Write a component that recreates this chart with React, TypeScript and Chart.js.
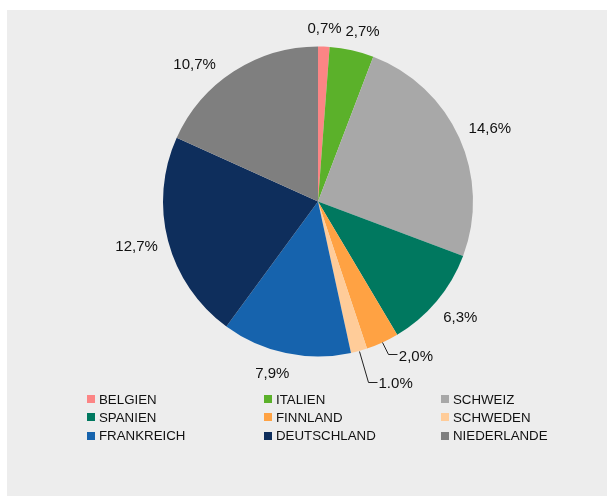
import React, { useEffect, useRef } from "react";
import { Chart, registerables } from "chart.js";

Chart.register(...registerables);

const categories = [
  "BELGIEN",
  "ITALIEN",
  "SCHWEIZ",
  "SPANIEN",
  "FINNLAND",
  "SCHWEDEN",
  "FRANKREICH",
  "DEUTSCHLAND",
  "NIEDERLANDE",
];
const values = [0.7, 2.7, 14.6, 6.3, 2.0, 1.0, 7.9, 12.7, 10.7];
const valueLabels = ["0,7%", "2,7%", "14,6%", "6,3%", "2,0%", "1.0%", "7,9%", "12,7%", "10,7%"];
const colors = [
  "#fc8585",
  "#5bb12a",
  "#a8a8a8",
  "#00785f",
  "#ffa243",
  "#ffcc99",
  "#1663ad",
  "#0e2e5c",
  "#7f7f7f",
];

// label placement styling (angle nudges in degrees, leader line lengths)
const labelNudge = [0, 2, 1, -1, 0, 0, 3, 1, -9];
const leaderLen = [0, 0, 0, 0, 13, 32, 0, 0, 0];

const FONT = "Liberation Sans, Arial, sans-serif";

const labelPlugin = {
  id: "outLabels",
  afterDatasetsDraw(chart: any) {
    const ctx = chart.ctx;
    const meta = chart.getDatasetMeta(0);
    ctx.save();
    ctx.font = `15px ${FONT}`;
    ctx.fillStyle = "#111";
    ctx.strokeStyle = "#222";
    ctx.lineWidth = 1;
    ctx.textBaseline = "alphabetic";
    const capHalf = 15 * 0.716 / 2;
    meta.data.forEach((arc: any, i: number) => {
      const p = arc.getProps(["x", "y", "startAngle", "endAngle", "outerRadius"], true);
      const text = valueLabels[i];
      const mid = (p.startAngle + p.endAngle) / 2 + (labelNudge[i] * Math.PI) / 180;
      const c = Math.cos(mid);
      const s = Math.sin(mid);
      const r = p.outerRadius;
      const w = ctx.measureText(text).width;
      if (leaderLen[i] > 0) {
        const sx = p.x + r * c;
        const sy = p.y + r * s;
        const ex = p.x + (r + leaderLen[i]) * c;
        const ey = p.y + (r + leaderLen[i]) * s;
        const dir = c >= 0 ? 1 : -1;
        const hx = ex + dir * 9;
        ctx.beginPath();
        ctx.moveTo(Math.round(sx) + 0.5, Math.round(sy) + 0.5);
        ctx.lineTo(Math.round(ex) + 0.5, Math.round(ey) + 0.5);
        ctx.lineTo(Math.round(hx) + 0.5, Math.round(ey) + 0.5);
        ctx.stroke();
        ctx.textAlign = dir > 0 ? "left" : "right";
        ctx.fillText(text, hx + dir * 2, ey + 1 + capHalf);
      } else {
        const dist = r + 9 + Math.abs(c) * (w / 2) + Math.abs(s) * 9;
        const lx = p.x + dist * c;
        const ly = p.y + dist * s;
        ctx.textAlign = "center";
        ctx.fillText(text, lx, ly + capHalf);
      }
    });
    ctx.restore();
  },
};

const legendPlugin = {
  id: "gridLegend",
  afterDraw(chart: any) {
    const ctx = chart.ctx;
    const ds = chart.data.datasets[0];
    const labels = chart.data.labels as string[];
    const cols = 3;
    const colX = [80, 257, 434];
    const rowY0 = 389;
    const rowH = 18.3;
    ctx.save();
    ctx.font = `13.3px ${FONT}`;
    ctx.fillStyle = "#111";
    ctx.textBaseline = "alphabetic";
    ctx.textAlign = "left";
    labels.forEach((lab, i) => {
      const col = i % cols;
      const row = Math.floor(i / cols);
      const x = colX[col];
      const y = rowY0 + row * rowH;
      ctx.fillStyle = ds.backgroundColor[i];
      ctx.fillRect(x, Math.round(y - 4), 8, 8);
      ctx.fillStyle = "#111";
      ctx.fillText(lab, x + 12, y + 4.8);
    });
    ctx.restore();
  },
};

export default function App() {
  const canvasRef = useRef<HTMLCanvasElement>(null);
  useEffect(() => {
    if (!canvasRef.current) return;
    const chart = new Chart(canvasRef.current, {
      type: "pie",
      data: {
        labels: categories,
        datasets: [
          {
            data: values,
            backgroundColor: colors,
            borderWidth: 0,
          },
        ],
      },
      options: {
        responsive: false,
        animation: false,
        layout: { padding: { left: 156, right: 134, top: 36.5, bottom: 139.5 } },
        plugins: {
          legend: { display: false },
          tooltip: { enabled: false },
          title: { display: false },
        },
      },
      plugins: [labelPlugin, legendPlugin],
    });
    return () => chart.destroy();
  }, []);
  return (
    <div
      style={{
        position: "absolute",
        left: 7,
        top: 10,
        width: 600,
        height: 486,
        background: "#ededed",
      }}
    >
      <canvas ref={canvasRef} width={600} height={486} style={{ display: "block" }} />
    </div>
  );
}
